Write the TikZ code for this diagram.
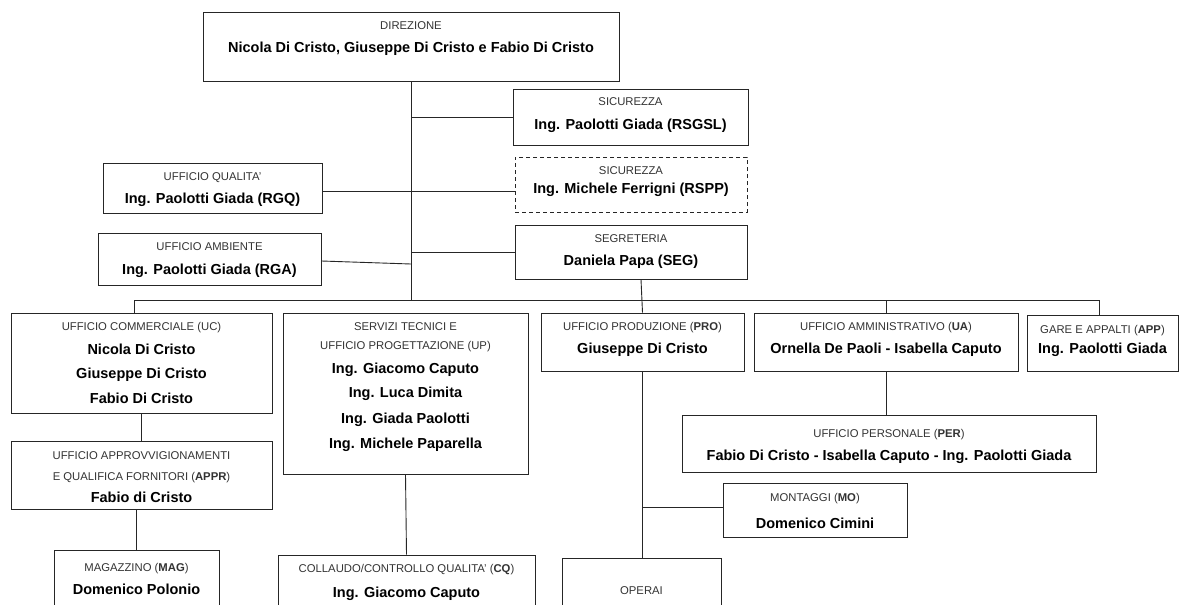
\documentclass[tikz,border=0pt]{standalone}
\usepackage{fontspec}
\setmainfont{Liberation Sans}
\usetikzlibrary{calc}
\tikzset{
  box/.style={draw=black!85, line width=0.9pt, inner sep=0pt, anchor=center},
  dbox/.style={box, dashed, dash pattern=on 4pt off 3pt},
  lbl/.style={font=\fontsize{11.3}{13}\selectfont, text=black!80, inner sep=0pt, anchor=base, yshift=-4pt},
  nm/.style={font=\bfseries\fontsize{14.5}{17}\selectfont, text=black, inner sep=0pt, anchor=base, yshift=-5.2pt},
  wire/.style={draw=black!85, line width=0.9pt}
}
\newcommand\acr[1]{\textbf{#1}}
\begin{document}
\begin{tikzpicture}[x=1pt,y=-1pt]
\useasboundingbox (0,0) rectangle (1181,605);
\fill[white] (0,0) rectangle (1181,605);
\clip (0,0) rectangle (1181,605);

% boxes
\node[box, minimum width=416pt, minimum height=69pt] (dir) at (411,46.5) {};
\node[box, minimum width=235pt, minimum height=56pt] (sic1) at (630.5,117) {};
\node[dbox, minimum width=232pt, minimum height=55pt] (sic2) at (631,184.5) {};
\node[box, minimum width=219pt, minimum height=50pt] (qual) at (212.5,188) {};
\node[box, minimum width=223pt, minimum height=52pt] (amb) at (209.5,259) {};
\node[box, minimum width=232pt, minimum height=54pt] (seg) at (631,252) {};
\node[box, minimum width=261pt, minimum height=100pt] (uc) at (141.5,363) {};
\node[box, minimum width=245pt, minimum height=161pt] (st) at (405.5,393.5) {};
\node[box, minimum width=203pt, minimum height=58pt] (pro) at (642.5,342) {};
\node[box, minimum width=264pt, minimum height=58pt] (ua) at (886,342) {};
\node[box, minimum width=151pt, minimum height=56pt] (app) at (1102.5,343) {};
\node[box, minimum width=414pt, minimum height=57pt] (per) at (889,443.5) {};
\node[box, minimum width=261pt, minimum height=68pt] (appr) at (141.5,475) {};
\node[box, minimum width=184pt, minimum height=54pt] (mo) at (815,510) {};
\node[box, minimum width=165pt, minimum height=70pt] (mag) at (136.5,585) {};
\node[box, minimum width=257pt, minimum height=65pt] (cq) at (406.5,587.5) {};
\node[box, minimum width=159pt, minimum height=62pt] (op) at (641.5,589) {};

% texts
\node[lbl] (t1) at (411,25) {DIREZIONE};
\node[nm] (t2) at (411,47) {Nicola Di Cristo, Giuseppe Di Cristo e Fabio Di Cristo};
\node[lbl] (t3) at (630.5,101) {SICUREZZA};
\node[nm] (t4) at (630.5,124) {Ing. Paolotti Giada (RSGSL)};
\node[lbl] (t5) at (631,170) {SICUREZZA};
\node[nm] (t6) at (631,188) {Ing. Michele Ferrigni (RSPP)};
\node[lbl] (t7) at (212.5,176) {UFFICIO QUALITA'};
\node[nm] (t8) at (212.5,198) {Ing. Paolotti Giada (RGQ)};
\node[lbl] (t9) at (209.5,246) {UFFICIO AMBIENTE};
\node[nm] (t10) at (209.5,269) {Ing. Paolotti Giada (RGA)};
\node[lbl] (t11) at (631,238) {SEGRETERIA};
\node[nm] (t12) at (631,260) {Daniela Papa (SEG)};
\node[lbl] (t13) at (141.5,326) {UFFICIO COMMERCIALE (UC)};
\node[nm] (t14) at (141.5,349) {Nicola Di Cristo};
\node[nm] (t15) at (141.5,373) {Giuseppe Di Cristo};
\node[nm] (t16) at (141.5,398) {Fabio Di Cristo};
\node[lbl] (t17) at (405.5,326) {SERVIZI TECNICI E};
\node[lbl] (t18) at (405.5,345) {UFFICIO PROGETTAZIONE (UP)};
\node[nm] (t19) at (405.5,368) {Ing. Giacomo Caputo};
\node[nm] (t20) at (405.5,392) {Ing. Luca Dimita};
\node[nm] (t21) at (405.5,418) {Ing. Giada Paolotti};
\node[nm] (t22) at (405.5,443) {Ing. Michele Paparella};
\node[lbl] (t23) at (642.5,326) {UFFICIO PRODUZIONE (\acr{PRO})};
\node[nm] (t24) at (642.5,348) {Giuseppe Di Cristo};
\node[lbl] (t25) at (886,326) {UFFICIO AMMINISTRATIVO (\acr{UA})};
\node[nm] (t26) at (886,348) {Ornella De Paoli - Isabella Caputo};
\node[lbl] (t27) at (1102.5,329) {GARE E APPALTI (\acr{APP})};
\node[nm] (t28) at (1102.5,348) {Ing. Paolotti Giada};
\node[lbl] (t29) at (889,433) {UFFICIO PERSONALE (\acr{PER})};
\node[nm] (t30) at (889,455) {Fabio Di Cristo - Isabella Caputo - Ing. Paolotti Giada};
\node[lbl] (t31) at (141.5,455) {UFFICIO APPROVVIGIONAMENTI};
\node[lbl] (t32) at (141.5,476) {E QUALIFICA FORNITORI (\acr{APPR})};
\node[nm] (t33) at (141.5,497) {Fabio di Cristo};
\node[lbl] (t34) at (815,497) {MONTAGGI (\acr{MO})};
\node[nm] (t35) at (815,523) {Domenico Cimini};
\node[lbl] (t36) at (136.5,567) {MAGAZZINO (\acr{MAG})};
\node[nm] (t37) at (136.5,589) {Domenico Polonio};
\node[lbl] (t38) at (406.5,568) {COLLAUDO/CONTROLLO QUALITA' (\acr{CQ})};
\node[nm] (t39) at (406.5,592) {Ing. Giacomo Caputo};
\node[lbl] (t40) at (641.5,590) {OPERAI};

% connectors
\coordinate (bj) at (411,300);
\coordinate (bl) at (134,300);
\coordinate (br) at (1099,300);
\coordinate (ambj) at (411,264);
\draw[wire] (dir.south) -- (bj);
\draw[wire] (dir.south |- sic1.west) -- (sic1.west);
\draw[wire] ([yshift=-3pt]qual.east) -- ([yshift=-3pt]qual.east -| sic2.west);
\draw[wire] ([yshift=-2pt]amb.east) -- (ambj);
\draw[wire] (dir.south |- seg.west) -- (seg.west);
\draw[wire] (bl) -- (br);
\draw[wire] (bl) -- (bl |- uc.north);
\draw[wire] ([xshift=10pt]seg.south) -- (pro.north);
\draw[wire] (ua.north) -- (ua.north |- br);
\draw[wire] (br) -- (br |- app.north);
\draw[wire] (ua.south) -- (ua.south |- per.north);
\draw[wire] (uc.south) -- (appr.north);
\draw[wire] (mag.north |- appr.south) -- (mag.north);
\draw[wire] (st.south) -- (cq.north);
\draw[wire] (pro.south) -- (pro.south |- op.north);
\draw[wire] (pro.south |- mo.west) ++(0,-3) -- ([yshift=3pt]mo.west);
\end{tikzpicture}
\end{document}
